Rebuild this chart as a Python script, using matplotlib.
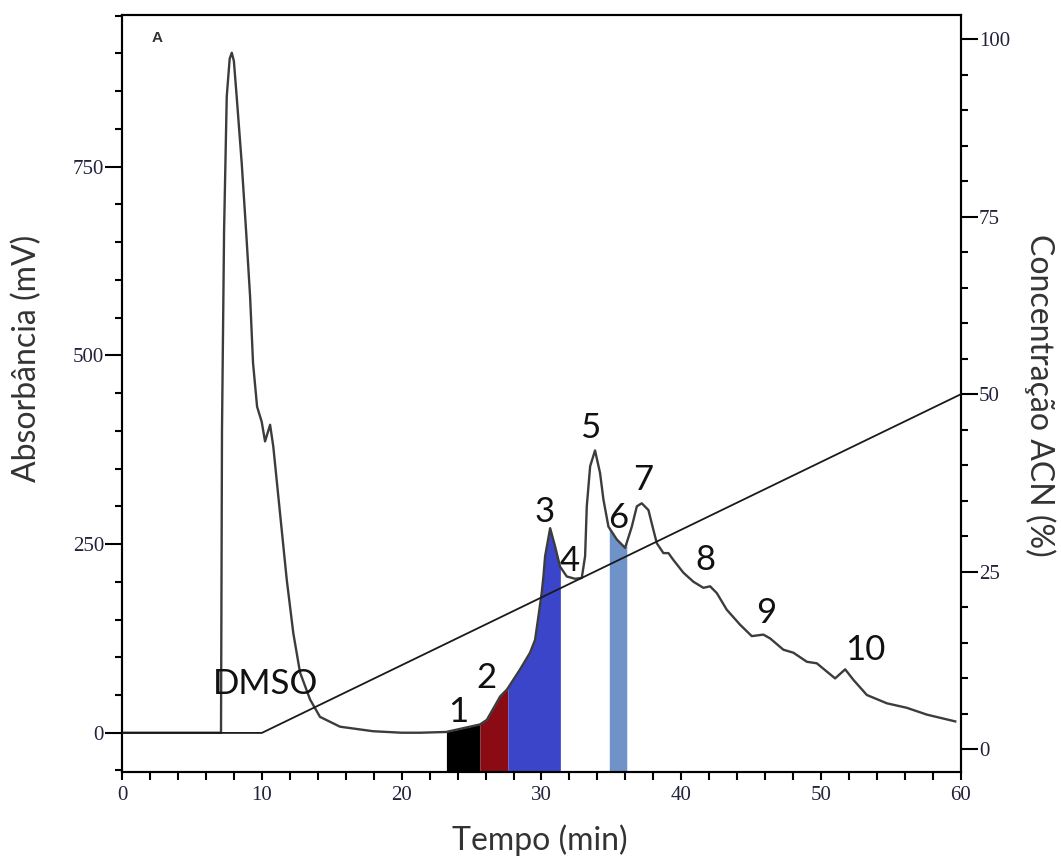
# _*_ coding: utf-8 _*_

"""
Draw HPLC chromatogram with collected fractions and ACN gradient.
"""

import numpy as np
import matplotlib.pyplot as plt
from matplotlib.ticker import MultipleLocator

# chromatogram trace, time (min) and absorbance (mV)
time_min = [0.0, 5.0, 7.08, 7.15, 7.30, 7.49, 7.70, 7.85, 8.0, 8.20, 8.56,
            8.87, 9.16, 9.37, 9.66, 9.99, 10.23, 10.59, 10.82, 11.30, 11.78,
            12.25, 12.73, 13.45, 14.16, 15.59, 17.95, 20.0, 21.32, 23.18,
            24.89, 25.61, 26.09, 26.80, 27.04, 27.52, 27.63, 28.47, 29.18,
            29.54, 29.78, 30.02, 30.14, 30.26, 30.62, 30.97, 31.33, 31.81,
            32.40, 32.88, 33.12, 33.24, 33.48, 33.83, 34.19, 34.43, 34.79,
            35.39, 35.98, 36.46, 36.82, 37.17, 37.65, 38.00, 38.25, 38.72,
            39.08, 39.43, 40.15, 40.87, 41.58, 42.06, 42.54, 43.25, 44.21,
            45.04, 45.87, 46.35, 47.30, 48.02, 48.98, 49.69, 50.41, 51.00,
            51.72, 52.31, 53.27, 54.70, 56.13, 57.56, 59.59]
absorb_mv = [0, 0, 0, 400, 666, 843, 893, 901, 890, 843, 755,
             666, 578, 490, 432, 412, 386, 408, 379, 291, 203,
             132, 80, 44, 21, 8, 2, 0, 0, 1,
             8, 11, 17, 40, 48, 57, 60, 84, 106,
             123, 154, 186, 207, 234, 271, 247, 220, 207,
             204, 205, 234, 300, 353, 374, 344, 309, 273,
             256, 245, 273, 300, 304, 295, 269, 251, 238,
             238, 229, 212, 200, 192, 194, 185, 163, 143,
             128, 130, 125, 110, 106, 94, 92, 81, 72,
             84, 70, 50, 39, 33, 24, 15]

# ACN gradient program, time (min) and concentration (%)
grad_time = [0, 10, 60]
grad_acn = [2.3, 2.3, 50]

# collected fractions: start, end (min) and colour
frac_start = [23.2, 25.6, 27.6, 34.85]
frac_end = [25.6, 27.6, 31.35, 36.1]
frac_color = ['#000000', '#8a0b14', '#3b45c9', '#6f93c8']

# peak labels
peak_names = ['DMSO', '1', '2', '3', '4', '5', '6', '7', '8', '9', '10']
peak_t = [10.3, 24.06, 26.09, 30.26, 32.05, 33.48, 35.5, 37.27, 41.7,
          46.1, 53.15]
peak_mv = [64, 28, 72, 292, 227, 404, 285, 335, 229, 159, 110]

# plot
fig = plt.figure(figsize=(10.61, 8.61), dpi=100)
ax = fig.add_axes((0.115, 0.1034, 0.7907, 0.8792))
ax2 = ax.twinx()

ymin, ymax = -52, 951
t = np.array(time_min)
y = np.array(absorb_mv)

# fractions, filled from the trace to the bottom of the axes
for a, b, c in zip(frac_start, frac_end, frac_color):
    m = (t > a) & (t < b)
    xs = np.concatenate(([a], t[m], [b]))
    ys = np.concatenate(([np.interp(a, t, y)], y[m], [np.interp(b, t, y)]))
    ax.fill_between(xs, ys, ymin, color=c, lw=0, zorder=1)

ax.plot(t, y, color='#3c3c3c', lw=1.7, zorder=3)
ax2.plot(grad_time, grad_acn, color='#1a1a1a', lw=1.3, zorder=3)

for s, px, py in zip(peak_names, peak_t, peak_mv):
    ax.text(px, py, s, fontsize=25, family='Lato', color='#111111',
            ha='center', va='center', zorder=4)
ax.text(2.5, 921, 'A', fontsize=11, family='Liberation Sans',
        weight='bold', color='#333333', ha='center', va='center')

# axes limits and ticks
ax.set_xlim(0, 60)
ax.set_ylim(ymin, ymax)
ax2.set_ylim(-3.2, 103.4)
ax.xaxis.set_major_locator(MultipleLocator(10))
ax.xaxis.set_minor_locator(MultipleLocator(2))
ax.yaxis.set_major_locator(MultipleLocator(250))
ax.yaxis.set_minor_locator(MultipleLocator(50))
ax2.yaxis.set_major_locator(MultipleLocator(25))
ax2.yaxis.set_minor_locator(MultipleLocator(5))

tick_font = {'family': 'Liberation Serif', 'size': 15}
for a in (ax, ax2):
    for sp in a.spines.values():
        sp.set_linewidth(1.5)
    for lab in a.get_xticklabels() + a.get_yticklabels():
        lab.set_fontproperties(tick_font)
        lab.set_color('#22223a')
ax.tick_params(axis='y', which='major', length=12, width=1.5, pad=1)
ax.tick_params(axis='y', which='minor', length=5, width=1.5)
ax.tick_params(axis='x', which='both', length=6, width=1.5, pad=4)
ax2.tick_params(axis='y', which='major', length=12, width=1.5, pad=1)
ax2.tick_params(axis='y', which='minor', length=5, width=1.5)

# axis labels
lab_kw = dict(fontsize=23, family='Lato', color='#333333', va='center')
ax.set_xlabel('Tempo (min)', **lab_kw)
ax.xaxis.set_label_coords(0.498, -0.09)
ax.set_ylabel('Absorbância (mV)', **lab_kw)
ax.yaxis.set_label_coords(-0.113, 0.547)
ax2.set_ylabel('Concentração ACN (%)', rotation=-90, **lab_kw)
ax2.yaxis.set_label_coords(1.094, 0.498)

plt.savefig('out.png', dpi=100)
